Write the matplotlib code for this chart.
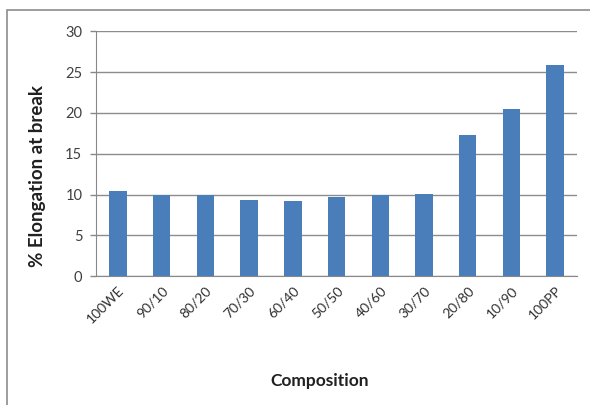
import matplotlib.pyplot as plt
from matplotlib.patches import Rectangle

# elongation at break for each blend composition
compositions = ['100WE', '90/10', '80/20', '70/30', '60/40', '50/50',
                '40/60', '30/70', '20/80', '10/90', '100PP']
elongation = [10.4, 10.0, 10.0, 9.35, 9.25, 9.7, 10.0, 10.1, 17.3, 20.5, 25.8]
yticks = [0, 5, 10, 15, 20, 25, 30]

plt.rcParams['font.family'] = ['Lato', 'DejaVu Sans']

fig = plt.figure(figsize=(5.9, 4.05), dpi=100)
ax = fig.add_axes([0.163, 0.318, 0.815, 0.605])

x = range(len(compositions))
ax.bar(x, elongation, width=0.4, color='#4a7ebb', zorder=3)

ax.set_xlim(-0.5, len(compositions) - 0.5)
ax.set_ylim(0, 30)
ax.set_yticks(yticks)
ax.set_yticklabels([str(t) for t in yticks], fontsize=10.5, color='#404040')
ax.set_xticks(list(x))
ax.set_xticklabels(compositions, rotation=45, ha='right', rotation_mode='anchor',
                   fontsize=10, color='#303030')
ax.tick_params(axis='x', length=0, pad=6)
ax.tick_params(axis='y', length=4, color='#888888', width=1, pad=6)

ax.grid(axis='y', color='#8c8c8c', linewidth=1, zorder=0)
for side in ['top', 'right']:
    ax.spines[side].set_visible(False)
ax.spines['left'].set_color('#888888')
ax.spines['bottom'].set_color('#888888')

ax.set_ylabel('% Elongation at break', fontsize=13.5, fontweight='bold', color='#202020')
ax.yaxis.set_label_coords(-0.105, 0.41)
fig.text(320 / 590, 1 - 381 / 405, 'Composition', fontsize=12.5, fontweight='bold',
         color='#202020', ha='center', va='center')

# outer chart frame
fig.patches.append(Rectangle((7 / 590, -0.05), 1.2, 1 - 10 / 405 + 0.05,
                             transform=fig.transFigure, fill=False,
                             edgecolor='#8c8c8c', linewidth=1.2))

fig.savefig('out.png', dpi=100)
